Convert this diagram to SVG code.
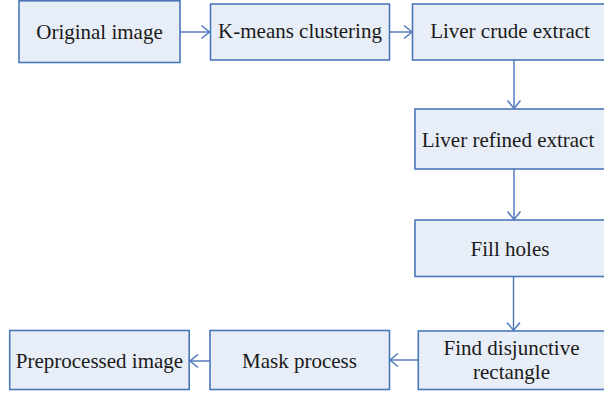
<svg xmlns="http://www.w3.org/2000/svg" width="604" height="396" viewBox="0 0 604 396">
  <style>
    .box { fill: #E8EEF7; stroke: #4A76BA; stroke-width: 1.6; }
    .lbl { font-family: "Liberation Serif", "Times New Roman", serif; font-size: 21px; fill: #1A1A1A; text-anchor: middle; }
    .conn { stroke: #4A76BA; stroke-width: 1.4; fill: none; marker-end: url(#arr); }
  </style>
  <defs>
    <marker id="arr" markerUnits="userSpaceOnUse" markerWidth="12" markerHeight="16" refX="9" refY="8" orient="auto">
      <path d="M1,1.5 L9,8 L1,14.5" fill="none" stroke="#4A76BA" stroke-width="1.4"/>
    </marker>
  </defs>
  <rect width="604" height="396" fill="#FFFFFF"/>
  <g id="connectors">
    <line class="conn" x1="180" y1="32" x2="209.5" y2="32"/>
    <line class="conn" x1="389.5" y1="32" x2="412" y2="32"/>
    <line class="conn" x1="514" y1="60" x2="514" y2="108.5"/>
    <line class="conn" x1="514" y1="169" x2="514" y2="219.5"/>
    <line class="conn" x1="513.5" y1="277" x2="513.5" y2="330.5"/>
    <line class="conn" x1="418" y1="360" x2="390" y2="360"/>
    <line class="conn" x1="210" y1="361" x2="190" y2="361"/>
  </g>
  <g id="original-image">
    <rect class="box" x="19" y="0.8" width="161" height="61.7"/>
    <text class="lbl" x="99.5" y="38.5">Original image</text>
  </g>
  <g id="k-means">
    <rect class="box" x="210.5" y="4" width="179" height="56"/>
    <text class="lbl" x="300" y="37.5">K-means clustering</text>
  </g>
  <g id="liver-crude">
    <rect class="box" x="412.5" y="4" width="200" height="56"/>
    <text class="lbl" x="510" y="37.5">Liver crude extract</text>
  </g>
  <g id="liver-refined">
    <rect class="box" x="415" y="109" width="200" height="60"/>
    <text class="lbl" x="508" y="146.5">Liver refined extract</text>
  </g>
  <g id="fill-holes">
    <rect class="box" x="415" y="220" width="200" height="56.5"/>
    <text class="lbl" x="510" y="255.5">Fill holes</text>
  </g>
  <g id="find-rectangle">
    <rect class="box" x="418.3" y="331" width="200" height="58.5"/>
    <text class="lbl" x="511.5" y="354.5">Find disjunctive</text>
    <text class="lbl" x="511.5" y="378.5">rectangle</text>
  </g>
  <g id="mask-process">
    <rect class="box" x="210" y="330.5" width="179.5" height="59"/>
    <text class="lbl" x="299.5" y="367.5">Mask process</text>
  </g>
  <g id="preprocessed-image">
    <rect class="box" x="9.7" y="330.5" width="179.5" height="59"/>
    <text class="lbl" x="99.5" y="367.5">Preprocessed image</text>
  </g>
</svg>
